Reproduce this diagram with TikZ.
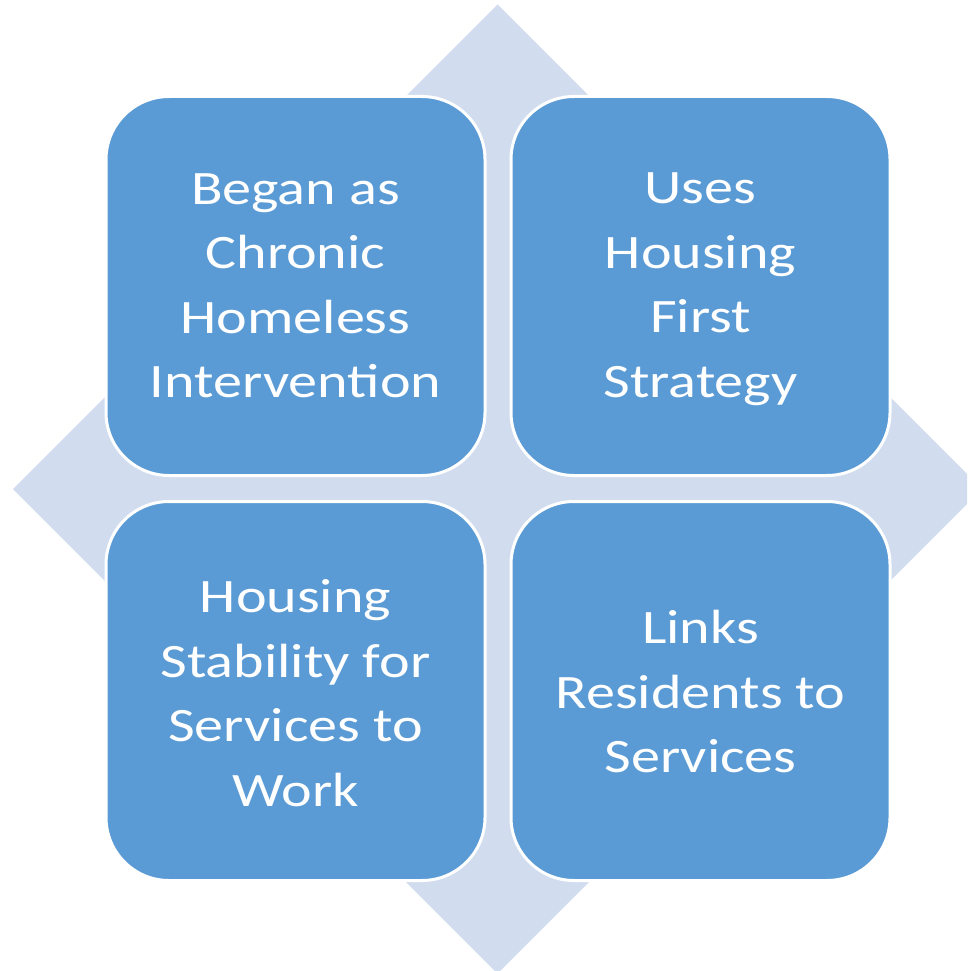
\documentclass[tikz,border=0pt]{standalone}
\usepackage{fontspec}
\newfontfamily\boxfont{Carlito}[FakeStretch=1.21]
\definecolor{boxblue}{HTML}{5B9BD5}
\definecolor{diamondblue}{HTML}{D1DDEF}
\tikzset{
  tile/.style={rectangle, minimum width=379pt, minimum height=379pt,
    rounded corners=63pt, fill=boxblue, draw=white, line width=3pt,
    text=white, align=center, inner sep=0pt,
    font=\boxfont\fontsize{48}{64.5}\selectfont},
}
\begin{document}
\begin{tikzpicture}[x=1pt, y=-1pt]
  \useasboundingbox (0,0) rectangle (967,971);
  \begin{scope}
    \clip (0,0) rectangle (967,971);
    % background diamond
    \fill[diamondblue] (497.5,4.5) -- (982,489) -- (497.5,973.5) -- (13,489) -- cycle;
  \end{scope}
  % the four tiles
  \node[tile] (tl) at (295.5,286) {};
  \node[tile] (tr) at (700.5,286) {};
  \node[tile] (bl) at (295.5,691) {};
  \node[tile] (br) at (700.5,691) {};
  % tile captions
  \node[tile, draw=none, fill=none, minimum size=0pt] (tltext) at (295.5,286) {Began as\\Chronic\\Homeless\\Intervention};
  \node[tile, draw=none, fill=none, minimum size=0pt] (trtext) at (700.5,289) {Uses\\Housing\\First\\Strategy};
  \node[tile, draw=none, fill=none, minimum size=0pt] (bltext) at (295.5,693) {Housing\\Stability for\\Services to\\Work};
  \node[tile, draw=none, fill=none, minimum size=0pt] (brtext) at (700.5,692) {Links\\Residents to\\Services};
\end{tikzpicture}
\end{document}
